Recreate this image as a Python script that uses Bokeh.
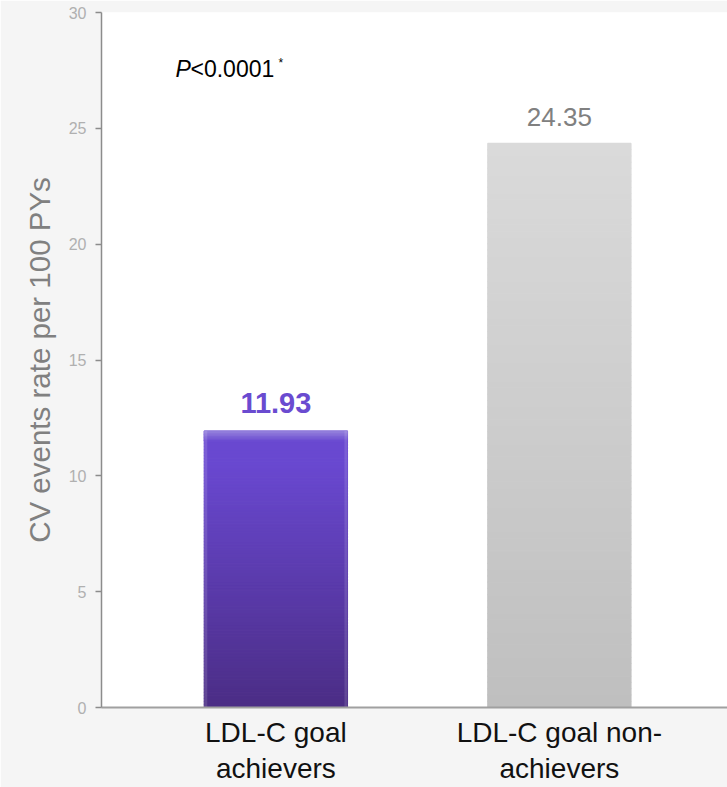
import numpy as np
from bokeh.plotting import figure
from bokeh.models import Range1d, FixedTicker, Label
from bokeh.embed import file_html
from bokeh.resources import INLINE
from bokeh.core.properties import value

# ---- data ----
categories = ["LDL-C goal\nachievers", "LDL-C goal non-\nachievers"]
rates = [11.93, 24.35]
rate_labels = ["11.93", "24.35"]
y_ticks = [0, 5, 10, 15, 20, 25, 30]
y_axis_title = "CV events rate per 100 PYs"
p_value_text = "<0.0001"

positions = [1, 2]
BAR_W = 0.505
FONT = "Liberation Sans"

p = figure(width=727, height=787, output_backend="svg", toolbar_location=None,
           x_range=Range1d(0.385, 2.593), y_range=Range1d(0, 30),
           min_border_left=101, min_border_right=0, min_border_top=12,
           min_border_bottom=80)
p.background_fill_color = "white"
p.border_fill_color = "#f5f5f5"
p.outline_line_color = None
p.grid.visible = False

# ---- gradient bars ----
def lerp(c1, c2, t):
    return tuple(int(round(a + (b - a) * t)) for a, b in zip(c1, c2))

def purple(f):  # f: 0 bottom -> 1 top
    bot, mid = (75, 45, 133), (105, 72, 208)
    return lerp(bot, mid, min(f / 0.88, 1.0))

def gray(f):
    return lerp((191, 191, 191), (218, 218, 218), f)

N = 90
for xpos, v, cfun in zip(positions, rates, [purple, gray]):
    edges = np.linspace(0, v, N + 1)
    mids = (edges[:-1] + edges[1:]) / 2
    cols = ["#%02x%02x%02x" % cfun(m / v) for m in mids]
    p.quad(left=xpos - BAR_W / 2, right=xpos + BAR_W / 2,
           bottom=edges[:-1], top=edges[1:], fill_color=cols,
           line_color=cols, line_width=1.2)

# top highlight on purple bar
hl = 10 / 23.17
hedges = np.linspace(rates[0] - hl, rates[0], 8)
hcols = ["#%02x%02x%02x" % lerp((105, 72, 208), (147, 128, 220), (i + 0.5) / 7) for i in range(7)]
p.quad(left=positions[0] - BAR_W / 2, right=positions[0] + BAR_W / 2,
       bottom=hedges[:-1], top=hedges[1:], fill_color=hcols,
       line_color=hcols, line_width=1)
# subtle side bevel
sw = 3 / 283.5
for side in (-1, 1):
    x0 = positions[0] + side * BAR_W / 2
    p.quad(left=min(x0, x0 - side * sw), right=max(x0, x0 - side * sw),
           bottom=0, top=rates[0], fill_color="white", fill_alpha=0.12, line_color=None)

# ---- value labels ----
p.text(x=[positions[0]], y=[rates[0]], text=[rate_labels[0]], y_offset=-28,
       text_align="center", text_baseline="alphabetic",
       text_color="#6a4bd0", text_font=value(FONT), text_font_size="29px",
       text_font_style="bold")
p.text(x=[positions[1]], y=[rates[1]], text=[rate_labels[1]], y_offset=-26,
       text_align="center", text_baseline="alphabetic",
       text_color="#808080", text_font=value(FONT), text_font_size="26px")

# ---- P value annotation ----
px, py = 0.646, 27.25
p.add_layout(Label(x=px, y=py, y_offset=7, text="P", text_font=FONT,
                   text_font_size="23px", text_font_style="italic",
                   text_color="black", text_baseline="alphabetic"))
p.add_layout(Label(x=px, y=py, x_offset=15, y_offset=7, text=p_value_text,
                   text_font=FONT, text_font_size="23px", text_color="black",
                   text_baseline="alphabetic"))
p.add_layout(Label(x=px, y=py, x_offset=103, y_offset=13, text="*", text_font=FONT,
                   text_font_size="12px", text_color="black",
                   text_baseline="alphabetic"))

# ---- axes ----
ya = p.yaxis[0]
ya.ticker = FixedTicker(ticks=y_ticks)
ya.axis_label = y_axis_title
ya.axis_label_text_font = FONT
ya.axis_label_text_font_size = "29.5px"
ya.axis_label_text_font_style = "normal"
ya.axis_label_text_color = "#808080"
ya.axis_label_standoff = 10
ya.major_label_text_font = FONT
ya.major_label_text_font_size = "16px"
ya.major_label_text_color = "#b0b0b0"
ya.major_label_standoff = 9
ya.major_tick_out = 6
ya.major_tick_in = 0
ya.minor_tick_line_color = None
ya.axis_line_color = "#8c8c8c"
ya.axis_line_width = 1.5
ya.major_tick_line_color = "#8c8c8c"
ya.major_tick_line_width = 1.5

xa = p.xaxis[0]
xa.ticker = FixedTicker(ticks=positions)
xa.major_label_overrides = {pos: lab for pos, lab in zip(positions, categories)}
xa.major_label_text_font = FONT
xa.major_label_text_font_size = "28px"
xa.major_label_text_line_height = 1.18
xa.major_label_text_color = "#111111"
xa.major_label_standoff = 9
xa.major_tick_out = 0
xa.major_tick_in = 0
xa.minor_tick_line_color = None
xa.axis_line_color = "#a0a0a0"
xa.axis_line_width = 2

open("out.html", "w").write(file_html(p, INLINE))
